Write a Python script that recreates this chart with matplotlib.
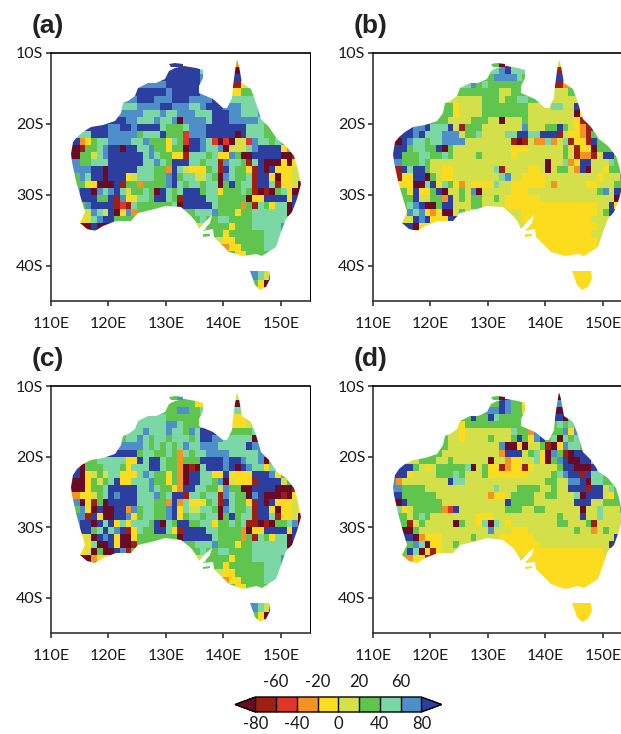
import numpy as np
import matplotlib
matplotlib.use('Agg')
import matplotlib.pyplot as plt
from matplotlib.colors import ListedColormap, BoundaryNorm
from matplotlib.path import Path
from matplotlib.cm import ScalarMappable

W, H = 621, 734
plt.rcParams['font.family'] = ['Lato', 'DejaVu Sans']

# class letters, driest to wettest (rows run from 11S down, columns from 113E)
CODES = 'mrRoylgtbd'
VALUES = [-90, -70, -50, -30, -10, 10, 30, 50, 70, 90]
LEVELS = [-80, -60, -40, -20, 0, 20, 40, 60, 80]
COLOURS = ['#6b0a24', '#9e1f14', '#e2352a', '#f39422', '#fbdc1e',
           '#d3e04a', '#5fc54f', '#7bd8a5', '#4f8fc9', '#2c3f9f']

east_a = [
    "...mdm................l..gggygggtttttbb..",
    ".........................ggyggggggtttbb..",
    "..........................lyygggggtttbb..",
    "..........................ooyyggggttttg..",
    "...........................ygyyggggttt...",
    ".........................................",
    "...............................bbtlr.....",
    "...............................bbtlr.....",
    "...............................tgym......",
    "................................yyg......",
]

panel_a = [
    "..................ddr........o...........",
    "...................ddddty....m...........",
    "..................dddddbt....dd..........",
    ".............bbbbddddddbb....ry..........",
    "............dddddbdddddbtt...yggg........",
    "...........bdddbbbdddbbbbdddtttttt.......",
    ".........tttbbbbddbbbttbdddbbbtttm.......",
    ".........bbbbtttbttbbbtttdddbbtttbb......",
    ".......dddbbtttbttbmbbbbtdddbbbbbtttt....",
    "....dddbbddbddddtgggtbbbdddddddtttgg.....",
    "..ttdddbbbbbgtttdgggRbbbdddddmdtttggg....",
    ".doygttbbbbttbgggytgRddbtRmRmllRbttgtg...",
    "mmrggtbddmddttbggyggmddbttbmllltbddddyggg",
    "mmggltbddddddtbtggyyrtttgtyybgmmdddddmmr.",
    ".bggtttddddddttbtgdddttgttrbttgrtdmmmymyl",
    ".bbbddmdddddtttggodtlyyygtrdtggyrdmdyyyll",
    ".gbtddmdddyltttggbdgttlltgmbtggtrddymyyll",
    "..gyymmmdrggoggggbdtgttgttmgdgttrddtryylm",
    ".bddmbtbdtlggtgmdtgtdddgttygggtgrmrmgtymm",
    "..dddggdrbyyttgddtgrddddttgggggmyyddddyd.",
    "..gbddddrRrtggggggtmdddddtggggogrtgyttmd.",
    "..llbtldmyboggggggggggtttbgggyggttttttm..",
    "..yltbddgggg..........gtggttggggttttttg..",
] + east_a

panel_b = [
    ".................ggm.........l...........",
    "..................tbdttt.....r...........",
    ".................gbbbbtgg....dd..........",
    ".............tbgtgggggg......ro..........",
    "............gggggggllggg....lllgg........",
    "...........lllllggglggttg...lllllgg......",
    ".........ggyllllggggggggllllttlldg.......",
    ".........ggyllllggggggggllllllllmy.......",
    ".......gggllllgggllmlllgllllllllyrmd.....",
    "...dbbdtttdlrggglllllllblllggdglyordg....",
    "..ddbdtttbbblggtllllttddttdddrlyyorggg...",
    ".mdbttgttbbbbllllllllrmrlootoltryyrdggg..",
    "dddgttggdmgllllllllllyyyllllllglryymggg..",
    "ddgggttggtgllllglllllyllllllllglroorlddg.",
    ".bgggtgllllllllllllllllllllmlltoyddllltg.",
    ".rdtddgllyyllllllltrllllyylmlgglodmllyggg",
    ".ryyddmglyylllllllltbllyyyylllllllllylllgg",
    "..yymmtdytgyolyyyytllyyyyyylolllllyylllgg",
    "..gydyygdmllglbmlllllyyyllllllllllllgbld.",
    "..ggdllggodlglggllglyyyyyylllllllllllllm.",
    "..gtbdmmgddlllggllllyyyyyyyyyyyyyyyylldy.",
    "..ybtbyoymmlgllllllllllyyyyyyyyyyyyylgd..",
    "..lldbdyyyd...........lyyyyyyyyyyyylll...",
    "...dmyy...............l..yyyyyyyyyyylll..",
    ".........................yyyyyyyyyylll...",
    "..........................yyyyyyyyyyll...",
    "..........................yyyyyyyyyyll...",
    "...........................yyyyyyyyy.....",
    ".........................................",
    "...............................yyyyy.....",
    "...............................yyyyy.....",
    "...............................yyyyy.....",
    "...............................yyyyy.....",
]

panel_c = [
    "..................gbb........l...........",
    "...................gggyyoo...m...........",
    "..................gbbggty....tt..........",
    ".............ttttgggggggg....yyl.........",
    "............tttttbbtgggtgg...yyl.........",
    "...........ttbtttbttgbtddd..ggggtt.......",
    ".........gttbtgttgtttgtddbbtttttm........",
    ".........bbbbtgtgtgtbttbbbtttttdb........",
    "........ddddgttggtgotgttbbbbtttttbbd.....",
    "...ggtttttyydtddtggogggddddbddbttbmg.....",
    ".dmgggtttgytttddtggomrmtdddbdmdbttytg....",
    ".dmylglttyyytbtggygomddttyydyyyydddbyg...",
    "mmmyglgtdyytttbggygomddttgbmlyyyrddddlggg",
    "mmmyggtdddddttbtggyoddttgglbggmmddddmmmr.",
    ".oyylgtdbdddtttbgtddrttgttrbtggmbdmmmrmyy",
    ".bmyrgmdddddtttggodotyyygtrdtggyrdmdyyyll",
    ".gbymdmmddobgttggbdytllttgmbtggtrddymyyly",
    "..brdymmddbygttggbdygttgttmgdgttrddtryylm",
    ".bddmdtdytytttgdmtgddggttyggtgtrrmrmggtbm",
    "..ddgtdtbdrytggddtyrddddttggggomyyddddyd.",
    "..ylmdbdymmygggggggmdddddtggggogrtgyttmd.",
    "..lytmmdymmrggggggggggtttbgggyggttttttm..",
    "..ylmgmmdbrg..........gtggttggggttttttg..",
    "...moy................l..gggygggtttttbb..",
] + east_a[1:]

panel_d = [
    ".................ggm.........m...........",
    "..................gdbggy.....bm..........",
    ".................bbdbggl.....mmg.........",
    ".............gdggdtggggg.....dmgg........",
    "............yggggggggggg....gtgtg........",
    "...........lylllllllltggob...gbybt.......",
    ".........gllyllllglllgdgybdgtmtgt........",
    ".........glllllllllbmmymllgrmybttg.......",
    "........gllllllllllodddlgtymbgrmdddtt....",
    "....lgggllgllllllmlloyylltymgbdmmddttt...",
    "...dglylgggggtmlgyyroyyryllllgddmmmdttg..",
    ".ddyllllgggtglllgyyyyyyyllllgtbddrdttgg..",
    "bolllllllldttllllllllllllllggllbbdmttggggg",
    "bbgggglllllllllllltlllggggllglldddrddltgggg",
    ".dggggggllllllllloyylggggllggllltmdddlyggg",
    ".mdggggggllllllllllldggggllllllldddllggg",
    ".tylgggggoRdllllllllgggllggllllllmlltlllg",
    "..glgtgllllllllyyylllllllllllgllldlltllll",
    "..grlglllllmgllytmtlyllllllllgglllgrllll",
    "...mgllllllllllllblllyyyllllllllgllolgll.",
    "...dmoyyylllllgllllyyyyyylllllllllllllldd.",
    "...gbtmyyllgllllllllyyyyyylllllllllllld..",
    "..gdtmyrylll..........yyyyyyyyyyyyyyyl...",
    "...oyyr...............l..yyyyyyyyyyyyy...",
    ".........................yyyyyyyyyyyyy...",
    "..........................yyyyyyyyyyyy...",
    "..........................yyyyyyyyyyyy...",
    "...........................yyyyyyyyy.....",
    ".........................................",
    "...............................yyyyy.....",
    "...............................yyyyy.....",
    "...............................yyyyy.....",
    "...............................yyyyy.....",
]

# coastline, lon/lat
main_lon = [113.5, 113.9, 114.6, 115.6, 116.9, 119.1, 121.1, 122.1, 122.5, 123.4,
            124.6, 125.1, 126.9, 128.3, 129.8, 130.6, 131.5, 133.2, 135.3, 136.5,
            136.4, 135.8, 135.8, 138.2, 139.9, 140.7, 141.5, 141.6, 142.0, 142.4,
            142.8, 143.3, 144.8, 145.7, 146.5, 148.0, 149.4, 150.9, 152.3, 152.9,
            153.5, 152.9, 152.0, 150.9, 150.0, 149.1, 146.8, 145.7, 143.4, 141.0,
            139.6, 138.4, 138.2, 136.5, 137.6, 138.0, 137.0, 135.8, 135.3, 134.4,
            132.7, 129.9, 128.1, 125.2, 124.0, 121.4, 119.1, 117.6, 116.2, 115.0,
            115.9, 115.0, 114.3, 113.6]
main_lat = [24.3, 22.6, 21.8, 21.1, 20.5, 20.2, 19.6, 18.4, 17.1, 16.8,
            16.1, 14.9, 14.2, 14.3, 13.7, 12.5, 12.1, 11.9, 12.1, 12.4,
            13.5, 14.7, 15.6, 16.5, 17.7, 17.7, 16.3, 14.6, 12.5, 10.9,
            11.8, 14.2, 15.1, 17.0, 19.3, 20.5, 22.2, 23.1, 24.5, 25.9,
            28.5, 30.6, 32.5, 33.4, 35.3, 37.4, 38.6, 38.4, 38.7, 38.1,
            36.9, 35.9, 34.9, 35.1, 34.0, 32.9, 33.7, 34.8, 33.9, 33.0,
            31.8, 31.6, 32.0, 32.6, 33.7, 33.7, 34.4, 35.1, 34.8, 34.0,
            32.5, 30.1, 28.0, 25.4]
tas_lon = [144.6, 148.0, 148.1, 147.4, 146.4, 145.5]
tas_lat = [40.8, 40.8, 41.9, 43.0, 43.5, 42.8]
tiwi_lon = [130.5, 131.5, 133.0, 133.0, 130.9]
tiwi_lat = [11.6, 11.4, 11.5, 12.0, 12.0]
kangaroo_lon = [136.5, 137.7, 137.7, 136.5]
kangaroo_lat = [35.6, 35.5, 35.8, 35.9]

PANELS = [('(a)', panel_a, 51, 53, 301), ('(b)', panel_b, 373, 53, 301),
          ('(c)', panel_c, 51, 386, 633), ('(d)', panel_d, 373, 386, 633)]


def to_grid(rows):
    grid = np.full((33, 41), np.nan)
    for r, row in enumerate(rows):
        for c, ch in enumerate(row[:41]):
            if ch in CODES:
                grid[r, c] = VALUES[CODES.index(ch)]
    # coast runs a bit past the cells, so spread edge cells out sideways
    for r in range(33):
        good = np.where(~np.isnan(grid[r]))[0]
        if len(good):
            near = good[np.abs(np.arange(41)[:, None] - good).argmin(axis=1)]
            grid[r] = grid[r, near]
    return grid


def coast_path():
    verts, codes = [], []
    shapes = [(main_lon, main_lat), (tas_lon, tas_lat), (tiwi_lon, tiwi_lat),
              (kangaroo_lon, kangaroo_lat)]
    for lon, lat in shapes:
        pts = list(zip(lon, -np.array(lat)))
        verts += pts + [pts[0]]
        codes += [Path.MOVETO] + [Path.LINETO] * (len(pts) - 1) + [Path.CLOSEPOLY]
    return Path(verts, codes)


def main():
    cmap = ListedColormap(COLOURS[1:-1])
    cmap.set_under(COLOURS[0])
    cmap.set_over(COLOURS[-1])
    norm = BoundaryNorm(LEVELS, cmap.N)

    fig = plt.figure(figsize=(W / 100, H / 100), dpi=100)
    clip = coast_path()
    lon_edges = np.arange(113, 155)
    lat_edges = -np.arange(11, 45)

    for label, rows, left, top, bottom in PANELS:
        ax = fig.add_axes([left / W, 1 - bottom / H, 258.5 / W, (bottom - top) / H])
        mesh = ax.pcolormesh(lon_edges, lat_edges, to_grid(rows), cmap=cmap, norm=norm)
        mesh.set_clip_path(clip, transform=ax.transData)
        ax.set_xlim(110, 155)
        ax.set_ylim(-45, -10)
        ax.set_xticks([110, 120, 130, 140, 150])
        ax.set_xticklabels(['110E', '120E', '130E', '140E', '150E'])
        ax.set_yticks([-10, -20, -30, -40])
        ax.set_yticklabels(['10S', '20S', '30S', '40S'])
        ax.tick_params(labelsize=11.5, length=3.5, width=1.2, color='#333333',
                       labelcolor='#1a1a1a', pad=2)
        ax.tick_params(axis='x', pad=8)
        for side, spine in ax.spines.items():
            spine.set_linewidth(1.2)
            spine.set_color('#333333' if side in ('left', 'bottom') else 'black')
        ax.spines['right'].set_linewidth(0.7)
        fig.text((left - 19) / W, 1 - (top - 27) / H, label, family='Liberation Sans',
                 fontsize=19, fontweight='bold', color='#222222', va='center')

    # colorbar with labels taking turns below and above
    cax = fig.add_axes([235 / W, 1 - 712 / H, 206.7 / W, 15 / H])
    cb = fig.colorbar(ScalarMappable(norm=norm, cmap=cmap), cax=cax, orientation='horizontal',
                      extend='both', extendfrac=0.122, drawedges=True, spacing='uniform')
    cb.outline.set_linewidth(1.0)
    cb.dividers.set_linewidth(1.0)
    cb.set_ticks([-80, -40, 0, 40, 80])
    cb.set_ticklabels(['-80', '-40', '0', '40', '80'])
    cax.tick_params(labelsize=12, length=0, pad=3, labelcolor='#1a1a1a')
    cax.minorticks_off()
    for v in [-60, -20, 20, 60]:
        cax.text(v, 1.45, str(v), transform=cax.get_xaxis_transform(), ha='center', va='bottom',
                 fontsize=12, color='#1a1a1a', clip_on=False)

    fig.savefig('out.png', dpi=100)


if __name__ == '__main__':
    main()
